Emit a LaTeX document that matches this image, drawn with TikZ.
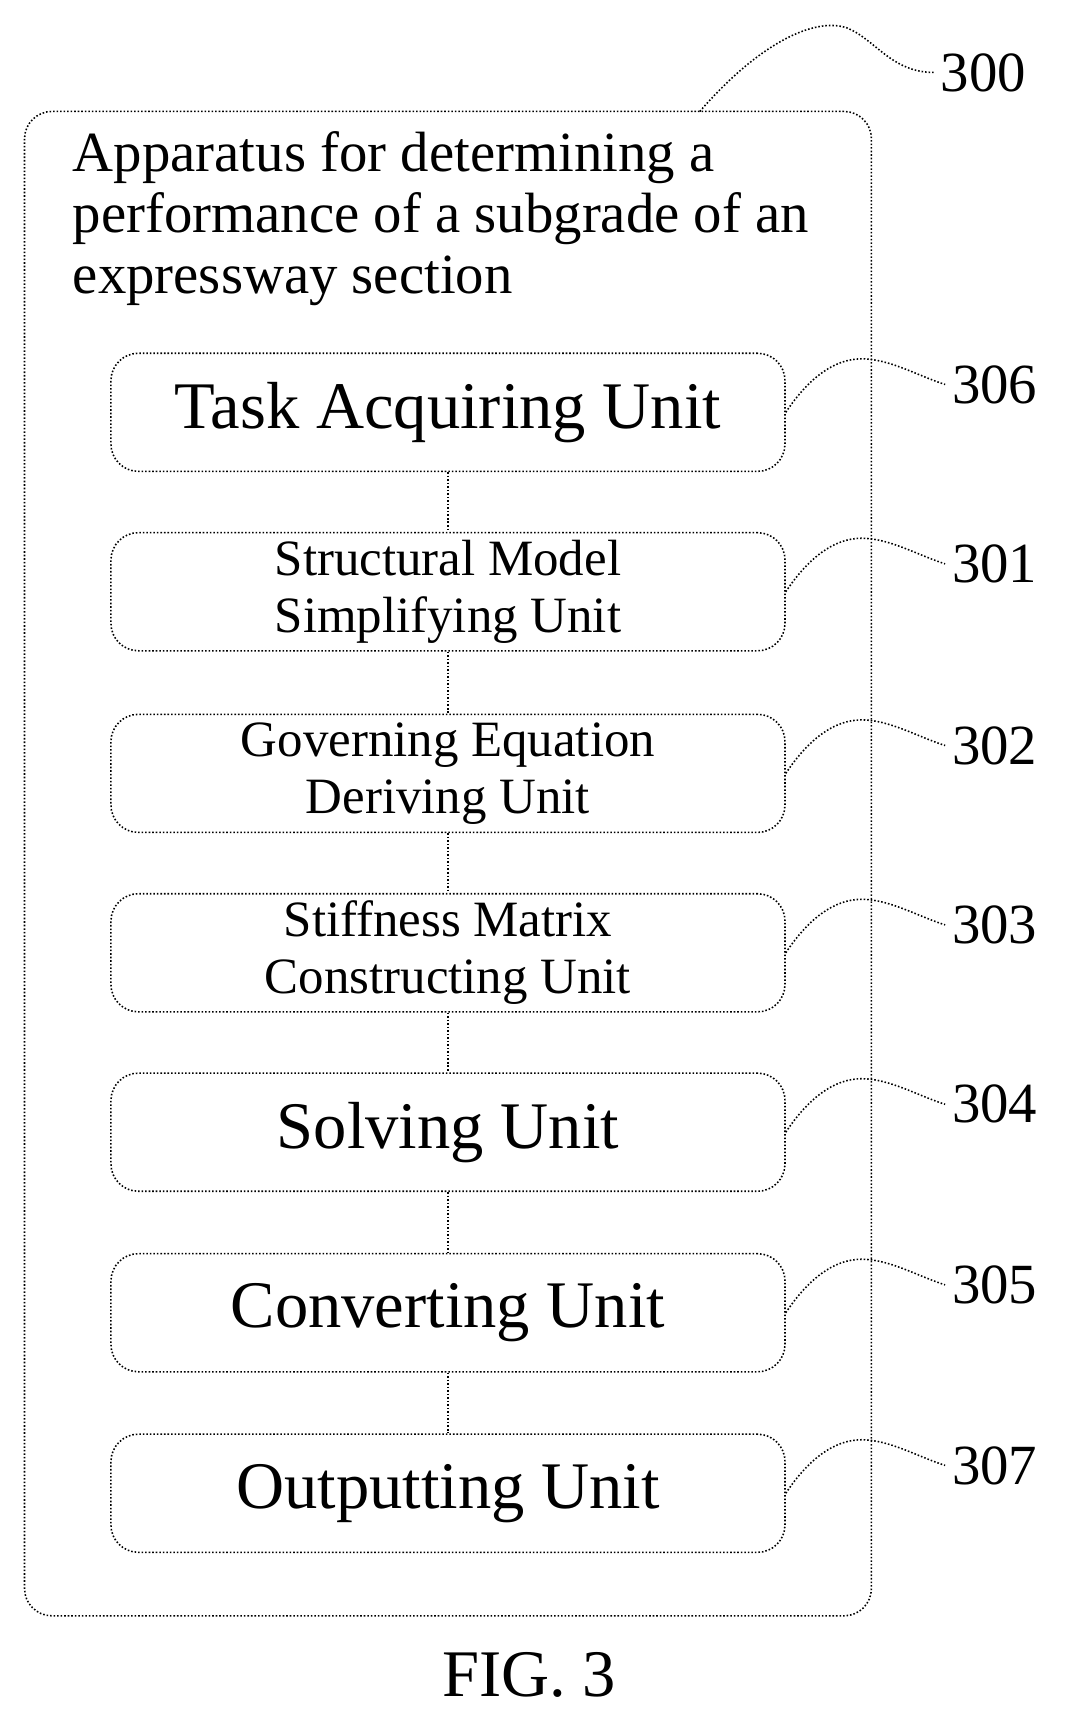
\documentclass[tikz,border=0pt]{standalone}
\usepackage{fontspec}
\setmainfont{Liberation Serif}
\usetikzlibrary{positioning}
\begin{document}
\begin{tikzpicture}[
	x=0.02cm, y=-0.02cm,
	frame/.style = {draw, densely dotted, thick, rounded corners=14pt},
	unit/.style = {frame, inner sep=0pt, minimum width=12.1cm, minimum height=2.12cm, align=center, font=\fontsize{26}{29}\selectfont},
	big unit/.style = {unit, font=\fontsize{34}{36}\selectfont},
	link/.style = {densely dotted, thick},
	tag/.style = {font=\fontsize{29}{31}\selectfont, anchor=west},
]
	\useasboundingbox (0,0) rectangle (960,1539);

	%% The outer apparatus box
	\draw [frame] (22,100) rectangle (782,1450);
	\node [anchor=north west, align=left, inner sep=0pt, font=\fontsize{29}{31}\selectfont] (title) at (65,118)
		{Apparatus for determining a\\performance of a subgrade of an\\expressway section};

	%% The unit boxes, top to bottom
	\node [big unit] (306) at (402,370) {Task Acquiring Unit};
	\node [unit] (301) at (402,531) {Structural Model\\Simplifying Unit};
	\node [unit] (302) at (402,694) {Governing Equation\\Deriving Unit};
	\node [unit] (303) at (402,855) {Stiffness Matrix\\Constructing Unit};
	\node [big unit] (304) at (402,1016) {Solving Unit};
	\node [big unit] (305) at (402,1178) {Converting Unit};
	\node [big unit] (307) at (402,1340) {Outputting Unit};

	%% Vertical links between the units
	\foreach \a/\b in {306/301, 301/302, 302/303, 303/304, 304/305, 305/307}{%
		\draw [link] (\a.south) -- (\b.north);
	}

	%% Reference numerals with wavy leaders
	\foreach \u in {306, 301, 302, 303, 304, 305, 307}{%
		\node [tag] (t\u) at ([xshift=2.86cm, yshift=0.5cm]\u.east) {\u};
		\draw [link] (\u.east) .. controls +(20,-30) and +(-25,0) .. ++(68,-48)
			.. controls +(25,0) and +(-25,-8) .. (t\u.west);
	}
	\node [tag] (t300) at (838,65) {300};
	\draw [link] (628,100) .. controls (680,40) and (730,15) .. (760,25)
		.. controls (785,35) and (800,65) .. (t300.west);

	\node [font=\fontsize{34}{36}\selectfont] (fig) at (475,1503) {FIG. 3};
\end{tikzpicture}
\end{document}
